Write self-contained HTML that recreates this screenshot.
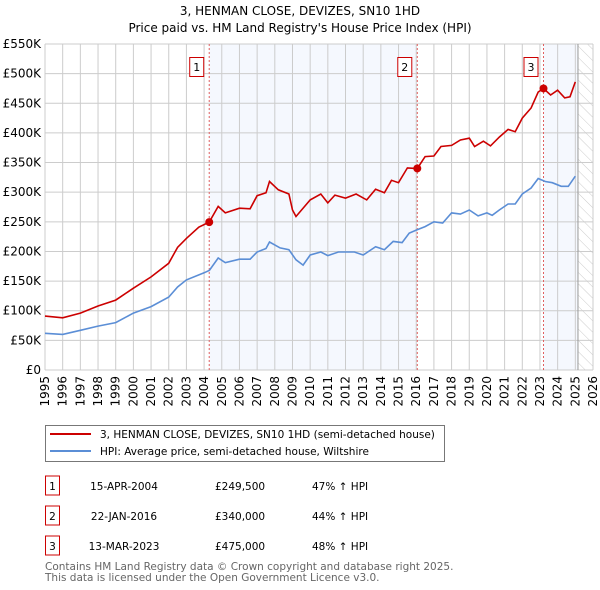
<!DOCTYPE html>
<html><head><meta charset="utf-8"><style>
body{margin:0;background:#fff;}
svg{display:block;font-family:"DejaVu Sans","Liberation Sans",sans-serif;}
</style></head><body>
<svg id="c" width="600" height="590">
<text x="300" y="15" text-anchor="middle" font-size="12">3, HENMAN CLOSE, DEVIZES, SN10 1HD</text>
<text x="300" y="32" text-anchor="middle" font-size="12">Price paid vs. HM Land Registry's House Price Index (HPI)</text>
<g id="plot"></g>
<g>
<rect x="45.5" y="425.5" width="399" height="36" fill="#fff" stroke="#777"/>
<line x1="50" y1="434" x2="91" y2="434" stroke="#cc0000" stroke-width="2"/>
<text x="100" y="438" font-size="10.5">3, HENMAN CLOSE, DEVIZES, SN10 1HD (semi-detached house)</text>
<line x1="50" y1="451" x2="91" y2="451" stroke="#5b8ed6" stroke-width="2"/>
<text x="100" y="455" font-size="10.5">HPI: Average price, semi-detached house, Wiltshire</text>
</g>
<g id="tbl" font-size="10.5"></g>
<text x="45" y="570" font-size="10.5" fill="#666">Contains HM Land Registry data © Crown copyright and database right 2025.</text>
<text x="45" y="581" font-size="10.5" fill="#666">This data is licensed under the Open Government Licence v3.0.</text>
</svg>
<script>
const yTicks=[0,50,100,150,200,250,300,350,400,450,500,550];
const yTickLabels=["£0","£50K","£100K","£150K","£200K","£250K","£300K","£350K","£400K","£450K","£500K","£550K"];
const xYears=[1995,1996,1997,1998,1999,2000,2001,2002,2003,2004,2005,2006,2007,2008,2009,2010,2011,2012,2013,2014,2015,2016,2017,2018,2019,2020,2021,2022,2023,2024,2025,2026];
const redT=[1995,1996,1997,1998,1999,2000,2001,2002,2002.5,2003,2003.7,2004.29,2004.8,2005.2,2006,2006.6,2007,2007.5,2007.7,2008.2,2008.8,2009.0,2009.2,2010,2010.6,2011,2011.4,2012,2012.6,2013.2,2013.7,2014.2,2014.6,2015,2015.5,2016.06,2016.5,2017,2017.4,2018,2018.5,2019,2019.3,2019.8,2020.2,2020.7,2021.2,2021.6,2022,2022.5,2022.9,2023.2,2023.6,2024,2024.4,2024.7,2025];
const redV=[91,88,96,108,118,138,157,180,207,222,241,249.5,276,265,273,272,294,299,318,304,297,270,259,287,297,282,295,290,297,287,305,299,320,316,341,340,360,361,377,379,388,391,377,386,378,393,406,402,425,442,469,475,464,472,459,461,486];
const blueT=[1995,1996,1997,1998,1999,2000,2001,2002,2002.5,2003,2004,2004.3,2004.8,2005.2,2006,2006.6,2007,2007.5,2007.7,2008.3,2008.8,2009.2,2009.6,2010,2010.6,2011,2011.6,2012.5,2013,2013.7,2014.2,2014.7,2015.2,2015.6,2016,2016.5,2017,2017.5,2018,2018.5,2019,2019.5,2020,2020.3,2020.7,2021.2,2021.6,2022,2022.5,2022.9,2023.3,2023.7,2024.2,2024.6,2025];
const blueV=[62,60,67,74,80,96,107,123,140,152,164,168,189,181,187,187,199,205,216,206,203,186,177,194,199,193,199,199,194,208,203,217,215,231,236,242,250,248,265,263,270,260,265,261,270,280,280,297,307,323,318,316,310,310,327];
const saleT=[2004.29,2016.06,2023.2];
const saleV=[249.5,340,475];
const saleDates=["15-APR-2004","22-JAN-2016","13-MAR-2023"];
const salePrices=["£249,500","£340,000","£475,000"];
const saleHpi=["47% ↑ HPI","44% ↑ HPI","48% ↑ HPI"];
const NS="http://www.w3.org/2000/svg";
const X=t=>45+(t-1995)*(548/31);
const Y=v=>370-v*(326/550);
function mk(tag,attrs,parent){const e=document.createElementNS(NS,tag);for(const k in attrs)e.setAttribute(k,attrs[k]);parent.appendChild(e);return e;}
const plot=document.getElementById('plot');
let s1=mk('rect',{x:X(saleT[0]),y:Y(550),width:X(saleT[1])-X(saleT[0]),height:Y(0)-Y(550),fill:'#eef3fd',opacity:0.6},plot);


let s2=mk('rect',{x:X(saleT[2]),y:Y(550),width:X(2025.15)-X(saleT[2]),height:Y(0)-Y(550),fill:'#eef3fd',opacity:0.6},plot);


const defs=mk('defs',{},plot);
const pat=mk('pattern',{id:'h',width:8,height:8,patternUnits:'userSpaceOnUse',patternTransform:'rotate(-45)'},defs);
mk('line',{x1:0,y1:0,x2:0,y2:8,stroke:'#ccc','stroke-width':1},pat);
let hr=mk('rect',{x:X(2025.15),y:Y(550),width:X(2026)-X(2025.15),height:Y(0)-Y(550),fill:'url(#h)'},plot);


yTicks.forEach((v,i)=>{
 let l=mk('line',{x1:45,x2:593,y1:Y(v),y2:Y(v),stroke:'#ccc'},plot);
 
 
 let t=mk('text',{x:41,y:Y(v)+4,'text-anchor':'end','font-size':12},plot);
 t.textContent=yTickLabels[i];
 
 
});
xYears.forEach(yr=>{
 let l=mk('line',{x1:X(yr),x2:X(yr),y1:Y(550),y2:Y(0),stroke:'#ccc'},plot);
 
 
 let t=mk('text',{x:0,y:0,'text-anchor':'end','font-size':12,transform:`translate(${X(yr)+4},376) rotate(-90)`},plot);
 t.textContent=yr;
 
 
});
let nl=mk('line',{x1:X(2025.15),x2:X(2025.15),y1:Y(550),y2:Y(0),stroke:'#999'},plot);


saleT.forEach((t,i)=>{
 let l=mk('line',{x1:X(t),x2:X(t),y1:Y(550),y2:Y(0),stroke:'#e06060','stroke-dasharray':'2,2'},plot);
 
 
 let b=mk('rect',{x:X(t)-19.5,y:57.5,width:14,height:19,fill:'#fff',stroke:'#c00'},plot);
 
 
 let tx=mk('text',{x:X(t)-12.5,y:71,'text-anchor':'middle','font-size':11},plot);
 tx.textContent=i+1;
 
 
});
function line(ts,vs,col,name){
 let d=ts.map((t,i)=>(i?'L':'M')+X(t).toFixed(1)+','+Y(vs[i]).toFixed(1)).join('');
 let p=mk('path',{d:d,fill:'none',stroke:col,'stroke-width':1.6},plot);
 
 
}
line(blueT,blueV,'#5b8ed6','hpi-line');
line(redT,redV,'#cc0000','property-line');
saleT.forEach((t,i)=>{
 let c=mk('circle',{cx:X(t),cy:Y(saleV[i]),r:4,fill:'#cc0000'},plot);
 
 
});
const tbl=document.getElementById('tbl');
saleDates.forEach((d,i)=>{
 const cy=486+i*30;
 let b=mk('rect',{x:45.5,y:cy-10,width:14,height:19,fill:'#fff',stroke:'#c00'},tbl);
 
 
 let n=mk('text',{x:52.5,y:cy+4,'text-anchor':'middle'},tbl);n.textContent=i+1;
 
 
 let a=mk('text',{x:124,y:cy+4,'text-anchor':'middle'},tbl);a.textContent=d;
 
 
 let p=mk('text',{x:215,y:cy+4},tbl);p.textContent=salePrices[i];
 
 
 let h=mk('text',{x:312,y:cy+4},tbl);h.textContent=saleHpi[i];
 
 
});
</script>
</body></html>
